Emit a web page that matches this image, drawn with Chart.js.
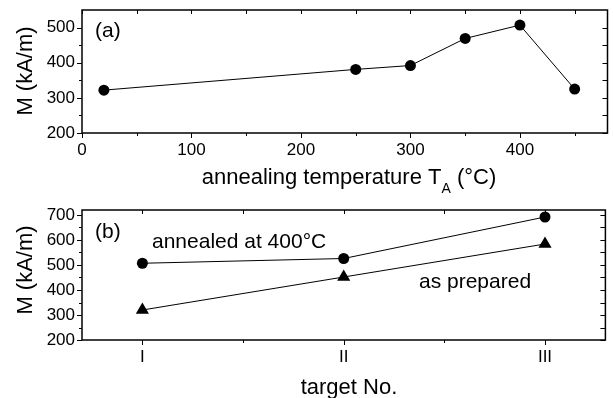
<!DOCTYPE html>
<html><head><meta charset="utf-8">
<script src="https://cdn.jsdelivr.net/npm/chart.js@4/dist/chart.umd.min.js"></script>
<style>
html,body{margin:0;padding:0;background:#fff;}
#wrap{position:relative;width:613px;height:398px;overflow:hidden;}
canvas{position:absolute;left:0;}
#c1{top:0;} #c2{top:200px;}
</style></head><body>
<div id="wrap"><canvas id="c1" width="613" height="200"></canvas><canvas id="c2" width="613" height="198"></canvas></div>
<script>
// ---- data ----
const annealTemps = [20, 250, 300, 350, 400, 450];
const magVsTemp = [322, 381, 392, 469, 507, 325];
const targetLabels = ['I', 'II', 'III'];
const targetPos = [1, 2, 3];
const magAnnealed = [507, 526, 692];
const magPrepared = [320, 452, 584];
// ---- ticks ----
const tempTicks = [0, 100, 200, 300, 400];
const magTicksA = [200, 300, 400, 500];
const magTicksB = [200, 300, 400, 500, 600, 700];
const targetTicks = [1, 2, 3];

const FONT = '"Liberation Sans", Arial, sans-serif';
Chart.defaults.font.family = FONT;
Chart.defaults.color = '#000';

function minors(ticks, min, max) {
  const step = ticks[1] - ticks[0];
  const out = [];
  for (let v = ticks[0] - step / 2; v < max; v += step) {
    if (v > min && v < max && !ticks.includes(v)) out.push(v);
  }
  return out;
}

const framePlugin = {
  id: 'frame',
  afterDatasetsDraw(chart, args, opts) {
    const {ctx, chartArea: a, scales: {x, y}} = chart;
    ctx.save();
    ctx.strokeStyle = '#000';
    ctx.lineWidth = 1;
    const xt = opts.xTicks, yt = opts.yTicks;
    const xm = minors(xt, x.min, x.max), ym = minors(yt, y.min, y.max);
    ctx.beginPath();
    xt.forEach(v => { const p = Math.round(x.getPixelForValue(v)) + 0.5; ctx.moveTo(p, a.bottom); ctx.lineTo(p, a.bottom + 5); ctx.moveTo(p, a.top); ctx.lineTo(p, a.top + 4); });
    xm.forEach(v => { const p = Math.round(x.getPixelForValue(v)) + 0.5; ctx.moveTo(p, a.bottom); ctx.lineTo(p, a.bottom + 3); ctx.moveTo(p, a.top); ctx.lineTo(p, a.top + 4); });
    yt.forEach(v => { const p = Math.round(y.getPixelForValue(v)) + 0.5; ctx.moveTo(a.left, p); ctx.lineTo(a.left - 5, p); ctx.moveTo(a.right, p); ctx.lineTo(a.right - 5, p); });
    ym.forEach(v => { const p = Math.round(y.getPixelForValue(v)) + 0.5; ctx.moveTo(a.left, p); ctx.lineTo(a.left - 3, p); ctx.moveTo(a.right, p); ctx.lineTo(a.right - 5, p); });
    ctx.stroke();
    ctx.lineWidth = 1.5;
    ctx.strokeRect(a.left, a.top, a.right - a.left, a.bottom - a.top);
    ctx.restore();
  }
};

const textPlugin = {
  id: 'texts',
  afterDraw(chart, args, opts) {
    const ctx = chart.ctx;
    ctx.save();
    ctx.fillStyle = '#000';
    ctx.textBaseline = 'alphabetic';
    (opts.items || []).forEach(it => {
      ctx.font = it.size + 'px ' + FONT;
      ctx.textAlign = it.align || 'left';
      if (it.rotate) {
        ctx.save();
        ctx.translate(it.x, it.y);
        ctx.rotate(-Math.PI / 2);
        ctx.fillText(it.text, 0, 0);
        ctx.restore();
      } else if (it.parts) {
        let total = 0;
        it.parts.forEach(p => { ctx.font = p.size + 'px ' + FONT; total += ctx.measureText(p.text).width; });
        let cx = it.x - total / 2;
        ctx.textAlign = 'left';
        it.parts.forEach(p => { ctx.font = p.size + 'px ' + FONT; ctx.fillText(p.text, cx, it.y + (p.dy || 0)); cx += ctx.measureText(p.text).width; });
      } else {
        ctx.fillText(it.text, it.x, it.y);
      }
    });
    ctx.restore();
  }
};

function noPad(s) { s.paddingTop = 0; s.paddingBottom = 0; s.paddingLeft = 0; s.paddingRight = 0; }

function axisCommon(extra) {
  return Object.assign({
    grid: {display: false, drawTicks: false},
    border: {display: false},
  }, extra);
}

const tickFont = {size: 17, family: FONT};

new Chart(document.getElementById('c1'), {
  type: 'line',
  data: {
    datasets: [{
      data: annealTemps.map((t, i) => ({x: t, y: magVsTemp[i]})),
      borderColor: '#000', borderWidth: 1, backgroundColor: '#000',
      pointRadius: 5.5, pointStyle: 'circle', pointBorderWidth: 0, tension: 0
    }]
  },
  options: {
    responsive: false, animation: false, devicePixelRatio: 1,
    layout: {padding: {top: 10, right: 0, left: 0, bottom: 0}},
    plugins: {
      legend: {display: false}, tooltip: {enabled: false},
      frame: {xTicks: tempTicks, yTicks: magTicksA},
      texts: {items: [
        {text: 'M (kA/m)', size: 22, x: 32, y: 71, rotate: true, align: 'center'},
        {text: '(a)', size: 21, x: 95, y: 37},
        {parts: [{text: 'annealing temperature T', size: 22}, {text: 'A', size: 14, dy: 9}, {text: ' (°C)', size: 22}], x: 349, y: 184}
      ]}
    },
    scales: {
      x: axisCommon({type: 'linear', min: 0, max: 480,
        afterBuildTicks: s => { s.ticks = tempTicks.map(v => ({value: v})); },
        afterFit: s => { s.height = 67; noPad(s); },
        ticks: {font: tickFont, color: '#000', padding: 7, maxRotation: 0, autoSkip: false}}),
      y: axisCommon({type: 'linear', min: 200, max: 550,
        afterBuildTicks: s => { s.ticks = magTicksA.map(v => ({value: v})); },
        afterFit: s => { s.width = 82; noPad(s); },
        ticks: {font: tickFont, color: '#000', padding: 7, autoSkip: false}})
    }
  },
  plugins: [framePlugin, textPlugin]
});

new Chart(document.getElementById('c2'), {
  type: 'line',
  data: {
    datasets: [{
      data: targetPos.map((t, i) => ({x: t, y: magAnnealed[i]})),
      borderColor: '#000', borderWidth: 1, backgroundColor: '#000',
      pointRadius: 5.5, pointStyle: 'circle', pointBorderWidth: 0, tension: 0
    }, {
      data: targetPos.map((t, i) => ({x: t, y: magPrepared[i]})),
      borderColor: '#000', borderWidth: 1, backgroundColor: '#000',
      pointRadius: 7.6, pointStyle: 'triangle', pointBorderWidth: 0, tension: 0
    }]
  },
  options: {
    responsive: false, animation: false, devicePixelRatio: 1,
    layout: {padding: {top: 10, right: 0, left: 0, bottom: 0}},
    plugins: {
      legend: {display: false}, tooltip: {enabled: false},
      frame: {xTicks: targetTicks, yTicks: magTicksB},
      texts: {items: [
        {text: 'M (kA/m)', size: 22, x: 32, y: 70, rotate: true, align: 'center'},
        {text: '(b)', size: 21, x: 95, y: 38},
        {text: 'annealed at 400°C', size: 21, x: 152, y: 48},
        {text: 'as prepared', size: 21, x: 419, y: 88},
        {text: 'target No.', size: 22, x: 349, y: 194, align: 'center'}
      ]}
    },
    scales: {
      x: axisCommon({type: 'linear', min: 0.7, max: 3.3,
        afterBuildTicks: s => { s.ticks = targetTicks.map(v => ({value: v})); },
        afterFit: s => { s.height = 58; noPad(s); },
        ticks: {font: tickFont, color: '#000', padding: 7, maxRotation: 0, autoSkip: false,
          callback: v => targetLabels[targetTicks.indexOf(v)]}}),
      y: axisCommon({type: 'linear', min: 200, max: 720,
        afterBuildTicks: s => { s.ticks = magTicksB.map(v => ({value: v})); },
        afterFit: s => { s.width = 82; noPad(s); },
        ticks: {font: tickFont, color: '#000', padding: 7, autoSkip: false}})
    }
  },
  plugins: [framePlugin, textPlugin]
});
</script>
</body></html>
